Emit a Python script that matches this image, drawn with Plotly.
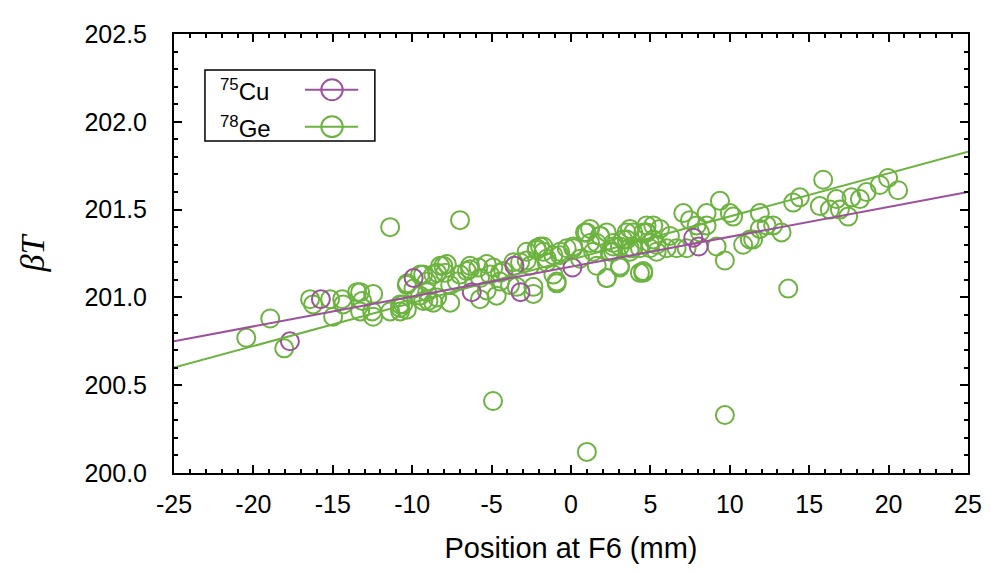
import numpy as np
import plotly.graph_objects as go

# ---- data ----
cu_x = [-17.7, -15.75, -9.91, -6.25, -3.56, -3.18, 0.09, 7.70, 8.04]
cu_y = [200.75, 200.99, 201.11, 201.03, 201.18, 201.03, 201.17, 201.34, 201.29]

ge_x = [-20.45, -18.94, -18.06, -16.43, -16.24, -15.17, -14.98, -14.41, -14.35, -13.47,
        -13.28, -13.15, -13.28, -12.46, -12.52, -12.46, -11.39, -10.76, -10.76, -10.57,
        -10.32, -9.31, -9.06, -8.43, -8.43, -8.24, -9.31, -11.39, -6.99,
        -10.76, -10.34, -9.92, -9.50, -9.08, -8.98, -8.67, -8.04, -7.93, -7.61,
        -7.19, -6.99, -6.56, -6.36, -5.83, -5.73, -5.31, -5.10, -4.89, -4.47,
        -4.26, -3.84, -3.63, -3.21, -2.79, -2.58, -2.37, -1.95, -1.74, -1.53,
        -1.11, -0.90, -0.69, -0.27, 0.14, 0.57, 0.99, 1.20, 1.40, 1.62,
        1.83, 2.25, 2.45, 2.66, 3.08, 3.51, 3.71, 3.92, 4.34, 4.55,
        4.76, 4.97, 5.18, 5.39,
        2.25, 2.25, 2.66, 3.08, 3.29, 3.71, 3.92, 4.55, 4.76, 5.18,
        5.60, 6.02, 6.23, 6.65, 7.07, 7.28, 7.49, 7.91, 8.12, 8.54,
        8.54, 9.17, 9.38, 9.69, 10.00, 10.21, 10.84, 11.26, 11.47, 11.89,
        11.89, 12.32, 12.73, 13.26, 13.68, 13.99, 14.41, 15.67, 15.88, 16.30,
        16.72, 16.93, 17.45, 17.66, 18.19, 18.61, 19.45, 19.97, 20.60,
        -2.16, -1.74, -1.53, -1.11, -0.69, -0.90, 0.14, 0.88, 1.20, 1.62,
        1.83, 2.66, 3.08, 3.50, 3.71, 4.34, 4.55, 4.76, 4.97, 5.39,
        -10.34, -9.50, -8.67, -7.82, -7.61, -6.36, -5.73, -5.31, -4.68, -4.47,
        -3.42, -2.79, -2.37, -2.16,
        -4.91, 1.00, 9.69]
ge_y = [200.77, 200.88, 200.71, 200.99, 200.96, 200.99, 200.89, 200.99, 200.96, 201.03,
        201.03, 200.98, 200.92, 201.02, 200.92, 200.89, 200.92, 200.94, 200.92, 200.96,
        201.08, 201.13, 201.03, 201.14, 201.00, 201.18, 200.98, 201.40, 201.44,
        200.96, 201.07, 201.05, 201.13, 201.09, 200.98, 201.13, 201.18, 201.14, 201.07,
        201.09, 201.13, 201.15, 201.18, 201.17, 201.11, 201.04, 201.13, 201.17, 201.09,
        201.15, 201.07, 201.20, 201.20, 201.26, 201.18, 201.02, 201.29, 201.26, 201.22,
        201.24, 201.09, 201.26, 201.28, 201.29, 201.22, 201.37, 201.31, 201.26, 201.18,
        201.35, 201.11, 201.26, 201.31, 201.29, 201.33, 201.26, 201.37, 201.28, 201.15,
        201.37, 201.31, 201.41, 201.26,
        201.37, 201.11, 201.29, 201.17, 201.33, 201.39, 201.28, 201.14, 201.37, 201.33,
        201.39, 201.28, 201.35, 201.28, 201.48, 201.28, 201.44, 201.41, 201.37, 201.48,
        201.41, 201.29, 201.55, 201.21, 201.48, 201.46, 201.30, 201.33, 201.33, 201.48,
        201.39, 201.41, 201.41, 201.37, 201.05, 201.54, 201.57, 201.52, 201.67, 201.50,
        201.56, 201.50, 201.46, 201.57, 201.56, 201.60, 201.64, 201.68, 201.61,
        201.28, 201.29, 201.20, 201.13, 201.24, 201.08, 201.28, 201.37, 201.39, 201.31,
        201.35, 201.26, 201.18, 201.37, 201.28, 201.14, 201.37, 201.41, 201.28, 201.30,
        200.93, 201.01, 200.97, 201.19, 200.97, 201.16, 200.99, 201.19, 201.01, 201.14,
        201.06, 201.21, 201.06, 201.27,
        200.41, 200.12, 200.33]

# linear fits (slope, intercept)
cu_fit = (0.0170, 201.175)
ge_fit = (0.0246, 201.215)

x_range = [-25, 25]
y_range = [200.0, 202.5]
x_ticks = [-25, -20, -15, -10, -5, 0, 5, 10, 15, 20, 25]
x_tick_text = ["-25", "-20", "-15", "-10", "-5", "0", "5", "10", "15", "20", "25"]
y_ticks = [200.0, 200.5, 201.0, 201.5, 202.0, 202.5]
y_tick_text = ["200.0", "200.5", "201.0", "201.5", "202.0", "202.5"]

PURPLE = "#9C519C"
GREEN = "#6CB33F"
FONT = "Liberation Sans, Arial"

fig = go.Figure()
fig.add_trace(go.Scatter(x=ge_x, y=ge_y, mode="markers", showlegend=False,
                         marker=dict(symbol="circle-open", size=18, color=GREEN,
                                     line=dict(width=2, color=GREEN))))
fig.add_trace(go.Scatter(x=cu_x, y=cu_y, mode="markers", showlegend=False,
                         marker=dict(symbol="circle-open", size=18, color=PURPLE,
                                     line=dict(width=2, color=PURPLE))))
xl = np.array(x_range, dtype=float)
fig.add_trace(go.Scatter(x=xl, y=ge_fit[0] * xl + ge_fit[1], mode="lines",
                         line=dict(color=GREEN, width=2), showlegend=False))
fig.add_trace(go.Scatter(x=xl, y=cu_fit[0] * xl + cu_fit[1], mode="lines",
                         line=dict(color=PURPLE, width=2), showlegend=False))

# custom legend (text left, symbol right)
legend_items = [("<sup>75</sup>Cu", PURPLE, 0.873), ("<sup>78</sup>Ge", GREEN, 0.789)]
shapes = [dict(type="rect", xref="paper", yref="paper", x0=0.039, x1=0.253,
               y0=0.756, y1=0.918, line=dict(color="black", width=1.5),
               fillcolor="white", layer="above")]
annotations = []
for label, col, yy in legend_items:
    shapes.append(dict(type="line", xref="paper", yref="paper", x0=0.165, x1=0.232,
                       y0=yy, y1=yy, line=dict(color=col, width=2), layer="above"))
    shapes.append(dict(type="circle", xref="paper", yref="paper",
                       x0=0.199 - 0.0135, x1=0.199 + 0.0135,
                       y0=yy - 0.0238, y1=yy + 0.0238,
                       line=dict(color=col, width=2), layer="above"))
    annotations.append(dict(text=label, xref="paper", yref="paper", x=0.056, y=yy,
                            xanchor="left", yanchor="middle", showarrow=False,
                            font=dict(family=FONT, size=24, color="black")))

axis_common = dict(showline=True, linecolor="black", linewidth=2, mirror="allticks",
                   ticks="inside", ticklen=8, tickwidth=2, tickcolor="black",
                   showgrid=False, zeroline=False,
                   tickfont=dict(family=FONT, size=25, color="black"))

fig.update_layout(
    width=990, height=573,
    margin=dict(l=166, r=30, t=15, b=108),
    plot_bgcolor="white", paper_bgcolor="white",
    shapes=shapes, annotations=annotations,
    xaxis=dict(range=x_range, tickvals=x_ticks, ticktext=x_tick_text, ticklabelstandoff=8,
               minor=dict(dtick=1, ticks="inside", ticklen=4, tickwidth=1.5, tickcolor="black"),
               title=dict(text="Position at F6 (mm)", standoff=21,
                          font=dict(family=FONT, size=29, color="black")),
               **axis_common),
    yaxis=dict(range=y_range, tickvals=y_ticks, ticktext=y_tick_text, ticklabelstandoff=20,
               minor=dict(dtick=0.1, ticks="inside", ticklen=4, tickwidth=1.5, tickcolor="black"),
               title=dict(text="<i>βT</i>", standoff=30,
                          font=dict(family="Liberation Serif, Times New Roman", size=34, color="black")),
               **axis_common),
)

fig.write_html("out.html")
